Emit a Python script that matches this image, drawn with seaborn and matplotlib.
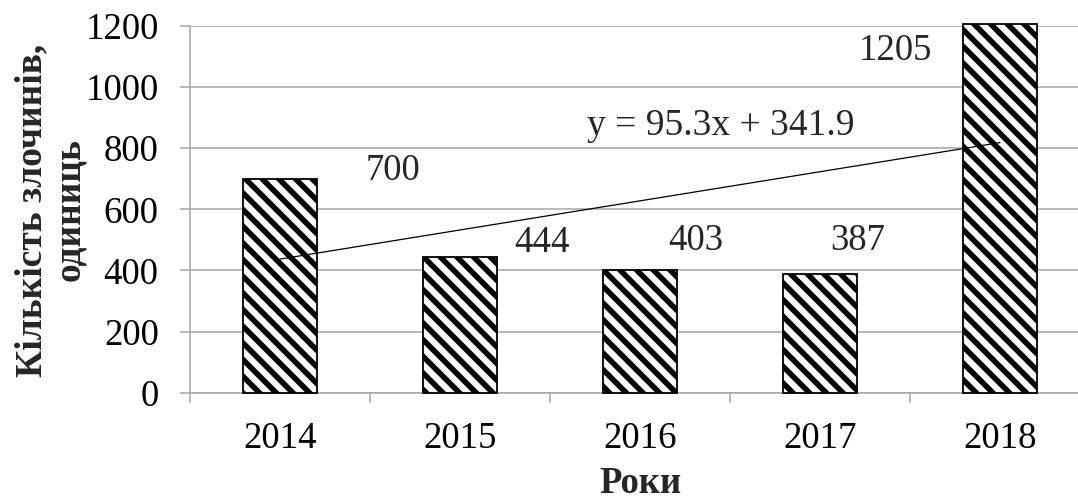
import numpy as np
import pandas as pd
import matplotlib
matplotlib.use("Agg")
import matplotlib.pyplot as plt
import seaborn as sns

# Number of registered crimes per year
years = ["2014", "2015", "2016", "2017", "2018"]
crimes = [700, 444, 403, 387, 1205]

y_ticks = [0, 200, 400, 600, 800, 1000, 1200]
y_title = "Кількість злочинів,\nодиниць"
x_title = "Роки"

# Text anchors (data coordinates) for the value labels and the trend equation
label_x = [0.627, 1.458, 2.309, 3.211, 3.417]
label_y = [696, 460, 467, 467, 1088]
eq_xy = (2.449, 843)

sns.set_theme(style="white")
plt.rcParams["font.family"] = ["Liberation Serif", "DejaVu Serif"]
plt.rcParams["hatch.linewidth"] = 4.0
plt.rcParams["hatch.color"] = "black"

grey = "#a6a6a6"
fs = 26.5

fig = plt.figure(figsize=(10.78, 4.99), dpi=100)
ax = fig.add_axes([190 / 1078, 1 - 392.7 / 499, 900 / 1078, 366.7 / 499])

df = pd.DataFrame({"year": years, "crimes": crimes})
sns.barplot(data=df, x="year", y="crimes", ax=ax, color="white",
            edgecolor="black", linewidth=1.3, width=0.406, saturation=1)
for p in ax.patches:
    p.set_hatch("\\\\")
    p.set_clip_on(False)
    p.set_zorder(3)

# Linear trend over the year index 1..5
idx = np.arange(1, len(crimes) + 1)
slope, intercept = np.polyfit(idx, crimes, 1)
ax.plot(idx - 1, slope * idx + intercept, color="black", lw=0.9, zorder=4)
ax.text(eq_xy[0], eq_xy[1], f"y = {slope:.1f}x + {intercept:.1f}",
        ha="center", va="baseline", fontsize=27, zorder=5)

for xv, yv, v in zip(label_x, label_y, crimes):
    ax.text(xv, yv, f"{v}", ha="center", va="baseline", fontsize=fs, zorder=5)

ax.set_ylim(0, 1200)
ax.set_xlim(-0.5, len(years) - 0.5)
ax.set_yticks(y_ticks)
ax.set_yticklabels([str(t) for t in y_ticks])
ax.yaxis.grid(True, color=grey, lw=1.1)
ax.set_axisbelow(True)

# Category boundaries carry the tick marks, centres carry the labels
ax.set_xticks(np.arange(-0.5, len(years), 1.0))
ax.set_xticklabels([])
ax.set_xticks(np.arange(len(years)), minor=True)
ax.set_xticklabels(years, minor=True)
ax.tick_params(axis="x", which="major", direction="out", length=7.5,
               width=1.1, color=grey, bottom=True)
ax.tick_params(axis="x", which="minor", length=0, pad=21, labelsize=fs,
               labelcolor="black", bottom=True)
ax.tick_params(axis="y", direction="out", length=7.5, width=1.1, color=grey,
               pad=15, labelsize=fs, labelcolor="black", left=True)

for s in ["top", "right"]:
    ax.spines[s].set_visible(False)
for s in ["left", "bottom"]:
    ax.spines[s].set_color(grey)
    ax.spines[s].set_linewidth(1.1)

ax.set_xlabel("")
ax.set_ylabel("")
fig.text(641 / 1078, 1 - 493 / 499, x_title, ha="center", va="baseline",
         fontsize=fs, fontweight="bold")
fig.text(51 / 1078, 1 - 210 / 499, y_title, rotation=90, ha="center",
         va="center", multialignment="center", fontsize=27,
         fontweight="bold", linespacing=1.12)

fig.savefig("out.png", dpi=100, facecolor="white")
